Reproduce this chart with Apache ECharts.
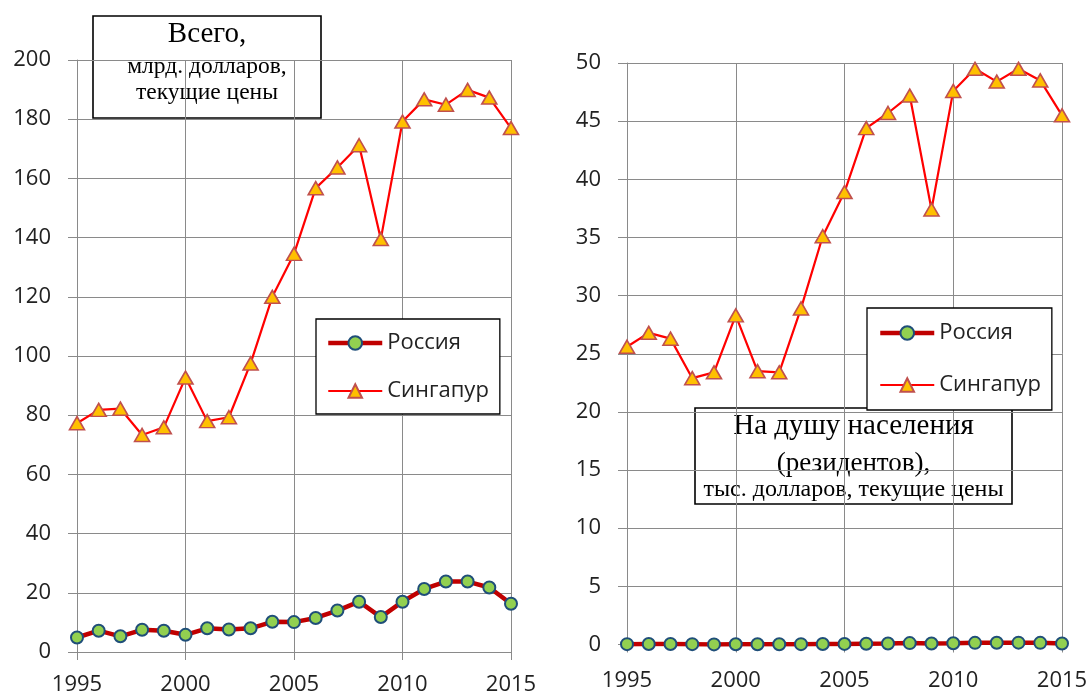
<!DOCTYPE html>
<html>
<head>
<meta charset="utf-8">
<script src="https://cdn.jsdelivr.net/npm/echarts@6/dist/echarts.min.js"></script>
<style>
html,body{margin:0;padding:0;background:#fff;}
#chart{width:1091px;height:696px;}
</style>
</head>
<body>
<div id="chart"></div>
<script>
// ---- data ----
const years = [1995,1996,1997,1998,1999,2000,2001,2002,2003,2004,2005,2006,2007,2008,2009,2010,2011,2012,2013,2014,2015];
const seriesNames = ['Россия', 'Сингапур'];
// Всего, млрд. долларов
const russiaTotal = [4.9,7.2,5.3,7.5,7.2,5.8,8.0,7.6,8.0,10.2,10.1,11.5,14.0,17.0,11.8,17.0,21.3,23.8,23.8,21.8,16.3];
const singaporeTotal = [77.3,81.8,82.2,73.3,75.9,92.7,78.0,79.3,97.5,120.0,134.5,156.7,163.7,171.2,139.5,179.2,186.7,184.9,189.9,187.3,177.0];
// На душу населения, тыс. долларов
const russiaPerCap = [0.03,0.04,0.04,0.03,0.01,0.02,0.02,0.02,0.03,0.04,0.05,0.07,0.09,0.12,0.09,0.11,0.14,0.15,0.16,0.14,0.09];
const singaporePerCap = [25.6,26.8,26.3,22.9,23.4,28.3,23.5,23.4,28.9,35.1,38.9,44.4,45.7,47.2,37.4,47.6,49.5,48.4,49.5,48.5,45.5];
// axis ticks
const xTicks = [1995,2000,2005,2010,2015];
const leftYTicks = [0,20,40,60,80,100,120,140,160,180,200];
const rightYTicks = [0,5,10,15,20,25,30,35,40,45,50];
// titles
const leftTitle = ['Всего,', 'млрд. долларов,', 'текущие цены'];
const rightTitle = ['На душу населения', '(резидентов),', 'тыс. долларов, текущие цены'];

const pairs = (vals) => years.map((y, i) => [y, vals[i]]);

const labelFont = '"Open Sans", sans-serif';
const serif = '"Liberation Serif", "Times New Roman", serif';
const gridColor = '#8a8a8a';

function xAxis(gridIndex, margin) {
  return {
    type: 'value', gridIndex,
    min: xTicks[0], max: xTicks[xTicks.length - 1], interval: 5,
    axisLine: {show: true, onZero: false, lineStyle: {color: gridColor, width: 1}},
    axisTick: {show: true, length: 8, lineStyle: {color: gridColor}},
    splitLine: {show: true, lineStyle: {color: gridColor, width: 1}},
    axisLabel: {fontFamily: labelFont, fontSize: 22, color: '#222', margin: margin, formatter: v => String(v)}
  };
}
function yAxis(gridIndex, ticks) {
  return {
    type: 'value', gridIndex,
    min: ticks[0], max: ticks[ticks.length - 1], interval: ticks[1] - ticks[0],
    axisLine: {show: true, lineStyle: {color: gridColor, width: 1}},
    axisTick: {show: true, length: 9, lineStyle: {color: gridColor}},
    splitLine: {show: true, lineStyle: {color: gridColor, width: 1}},
    axisLabel: {fontFamily: labelFont, fontSize: 22, color: '#222', margin: 26}
  };
}
function russia(xi, data) {
  return {
    name: seriesNames[0], type: 'line', xAxisIndex: xi, yAxisIndex: xi,
    data: pairs(data), symbol: 'circle', symbolSize: 12,
    lineStyle: {color: '#c00000', width: 4.5},
    itemStyle: {color: '#92d050', borderColor: '#1f4e79', borderWidth: 2},
    z: 3, animation: false
  };
}
function singapore(xi, data) {
  return {
    name: seriesNames[1], type: 'line', xAxisIndex: xi, yAxisIndex: xi,
    data: pairs(data), symbol: 'triangle', symbolSize: [15, 13],
    lineStyle: {color: '#ff0000', width: 2.2},
    itemStyle: {color: '#ffc000', borderColor: '#c0504d', borderWidth: 1.6},
    z: 2, animation: false
  };
}
function legend(left, top, pad, gap) {
  return {
    orient: 'vertical', left, top, padding: pad, itemGap: gap,
    itemWidth: 54, itemHeight: 17,
    backgroundColor: '#fff', borderColor: '#000', borderWidth: 1.3,
    data: seriesNames,
    lineStyle: {width: 'inherit'},
    textStyle: {fontFamily: labelFont, fontSize: 22, color: '#222'},
    selectedMode: false
  };
}
function titleBox(x, y, w, h, lines, sizes, mids) {
  const children = [{
    type: 'rect', shape: {x: 0, y: 0, width: w, height: h},
    style: {fill: '#fff', stroke: '#000', lineWidth: 1.6}
  }];
  lines.forEach((t, i) => {
    children.push({
      type: 'text', x: w / 2, y: mids[i],
      style: {text: t, fontFamily: serif, fontSize: sizes[i], fill: '#000', align: 'center', verticalAlign: 'middle'}
    });
  });
  return {type: 'group', x, y, z: 100, children};
}

const chart = echarts.init(document.getElementById('chart'), null, {renderer: 'canvas'});
chart.setOption({
  backgroundColor: '#fff',
  animation: false,
  grid: [
    {left: 77, right: 580, top: 60, bottom: 44},
    {left: 627, right: 29, top: 63, bottom: 51.5}
  ],
  xAxis: [xAxis(0, 22), xAxis(1, 25)],
  yAxis: [yAxis(0, leftYTicks), yAxis(1, rightYTicks)],
  legend: [
    legend(316, 319, [13, 11, 12, 10], 26),
    legend(867, 308, [14, 11, 14, 11], 30)
  ],
  series: [
    russia(0, russiaTotal), singapore(0, singaporeTotal),
    russia(1, russiaPerCap), singapore(1, singaporePerCap)
  ],
  graphic: [
    titleBox(93, 16, 228, 102, leftTitle, [29, 23.5, 23.5], [18, 51, 77]),
    titleBox(695, 408, 317, 96, rightTitle, [29, 27, 24], [18, 55.5, 81.5])
  ]
});
</script>
</body>
</html>
